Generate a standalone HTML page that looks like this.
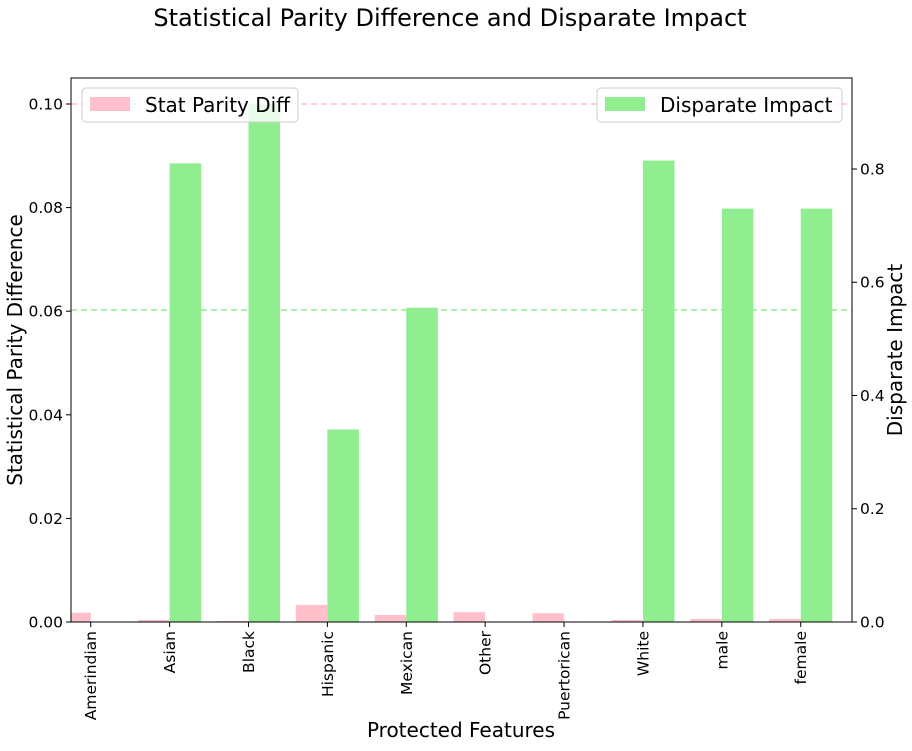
<!DOCTYPE html>
<html><head><meta charset="utf-8"><style>
body{margin:0;background:#fff;}
svg{font-family:"DejaVu Sans","Liberation Sans",sans-serif;}
</style></head><body>
<svg id="chart" width="912" height="746" xmlns="http://www.w3.org/2000/svg"></svg>
<script>
const categories=["Amerindian","Asian","Black","Hispanic","Mexican","Other","Puertorican","White","male","female"];
const statParity=[0.0018,0.0004,0.0002,0.0033,0.00135,0.0019,0.0017,0.0004,0.0006,0.0006];
const disparateImpact=[0,0.81,0.915,0.34,0.555,0,0,0.815,0.73,0.73];
const leftTicks=[0,0.02,0.04,0.06,0.08,0.10];
const rightTicks=[0,0.2,0.4,0.6,0.8];
const spdRef=0.1;
const diRef=0.551;

const NS="http://www.w3.org/2000/svg";
const svg=document.getElementById('chart');
const L=71,R=852,T=78,B=622;
const xmin=-0.25,xmax=9.65;
const x=v=>L+(v-xmin)/(xmax-xmin)*(R-L);
const yL=v=>B-v/0.10502*(B-T);
const yR=v=>B-v/0.9607*(B-T);
function mk(tag,attrs,text){const e=document.createElementNS(NS,tag);for(const k in attrs)e.setAttribute(k,attrs[k]);if(text!==undefined)e.textContent=text;svg.appendChild(e);return e;}

const defs=mk('defs',{});
const cp=document.createElementNS(NS,'clipPath');cp.setAttribute('id','clip');
const cr=document.createElementNS(NS,'rect');cr.setAttribute('x',L);cr.setAttribute('y',T);cr.setAttribute('width',R-L);cr.setAttribute('height',B-T);
cp.appendChild(cr);defs.appendChild(cp);

let t=mk('text',{x:450,y:26,'font-size':24,'text-anchor':'middle',fill:'#000'},'Statistical Parity Difference and Disparate Impact');


categories.forEach((c,i)=>{
  const w=x(0.4)-x(0);
  let b=mk('rect',{x:x(i-0.4),y:yL(statParity[i]),width:w,height:B-yL(statParity[i]),fill:'#ffc0cb','clip-path':'url(#clip)'});
  
  
  let g=mk('rect',{x:x(i),y:yR(disparateImpact[i]),width:w,height:B-yR(disparateImpact[i]),fill:'#90ee90','clip-path':'url(#clip)'});
  
  
  mk('line',{x1:x(i),x2:x(i),y1:B,y2:B+5,stroke:'#000'});
  let lb=mk('text',{transform:`translate(${x(i)+5.5},${B+9}) rotate(-90)`,'font-size':15.5,'text-anchor':'end',fill:'#000'},c);
  
  
});

let l1=mk('line',{x1:L,x2:R,y1:yL(spdRef),y2:yL(spdRef),stroke:'#ffc0cb','stroke-dasharray':'6,4','stroke-width':1.5});

let l2=mk('line',{x1:L,x2:R,y1:yR(diRef),y2:yR(diRef),stroke:'#90ee90','stroke-dasharray':'6,4','stroke-width':1.5});


mk('rect',{x:L,y:T,width:R-L,height:B-T,fill:'none',stroke:'#000','stroke-width':1});

leftTicks.forEach(v=>{
  mk('line',{x1:L-5,x2:L,y1:yL(v),y2:yL(v),stroke:'#000'});
  let e=mk('text',{x:L-8,y:yL(v)+5.5,'font-size':15.5,'text-anchor':'end'},v.toFixed(2));
  
});
rightTicks.forEach(v=>{
  mk('line',{x1:R,x2:R+5,y1:yR(v),y2:yR(v),stroke:'#000'});
  let e=mk('text',{x:R+8,y:yR(v)+5.5,'font-size':15.5,'text-anchor':'start'},v.toFixed(1));
  
});

t=mk('text',{transform:'translate(22,350) rotate(-90)','font-size':20,'text-anchor':'middle'},'Statistical Parity Difference');

t=mk('text',{transform:'translate(902,350) rotate(-90)','font-size':20,'text-anchor':'middle'},'Disparate Impact');

t=mk('text',{x:461,y:737,'font-size':20,'text-anchor':'middle'},'Protected Features');


let lg=mk('rect',{x:82,y:88,width:216,height:34,rx:4,fill:'rgba(255,255,255,0.8)',stroke:'#ccc'});

mk('rect',{x:90,y:97,width:40,height:14,fill:'#ffc0cb'});
mk('text',{x:145,y:112,'font-size':20},'Stat Parity Diff');
lg=mk('rect',{x:597,y:88,width:245,height:34,rx:4,fill:'rgba(255,255,255,0.8)',stroke:'#ccc'});

mk('rect',{x:605,y:97,width:40,height:14,fill:'#90ee90'});
mk('text',{x:660,y:112,'font-size':20},'Disparate Impact');
</script>
</body></html>
